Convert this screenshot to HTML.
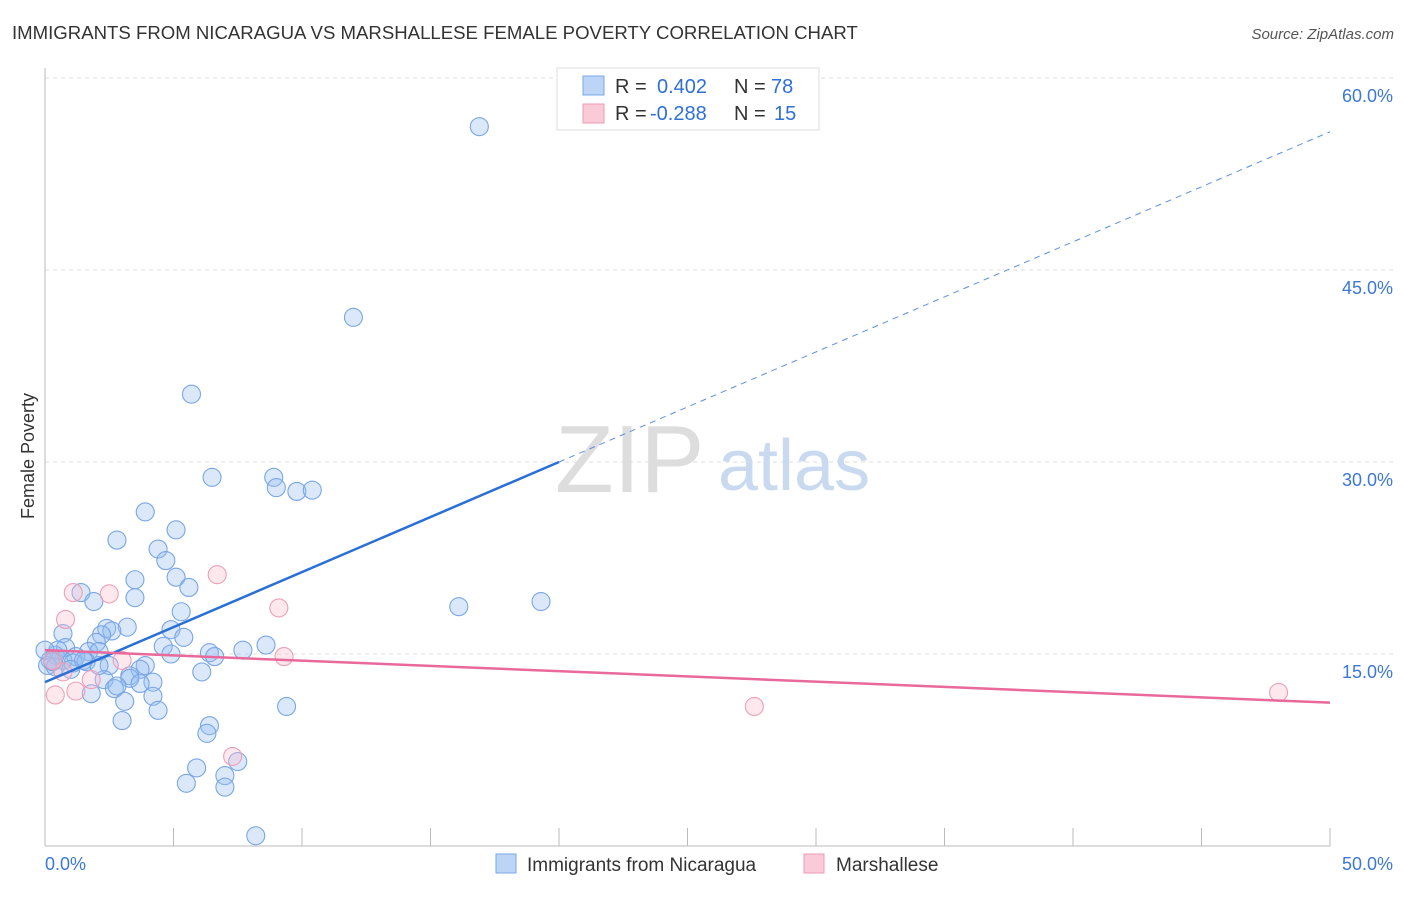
<!DOCTYPE html>
<html><head><meta charset="utf-8"><style>
body{margin:0;background:#fff;font-family:"Liberation Sans",sans-serif;}
svg text{font-family:"Liberation Sans",sans-serif;}
</style></head><body>
<svg id="chart" width="1406" height="892">
<text x="12" y="39" font-size="18.6" fill="#333">IMMIGRANTS FROM NICARAGUA VS MARSHALLESE FEMALE POVERTY CORRELATION CHART</text>
<text x="1394" y="39" font-size="15" fill="#555" font-style="italic" text-anchor="end">Source: ZipAtlas.com</text>
<text x="34" y="456" font-size="18" fill="#333" transform="rotate(-90 34 456)" text-anchor="middle">Female Poverty</text>
<g id="grid"></g>
<text x="555" y="492" font-size="96" fill="#ddd" font-family="Liberation Serif">ZIP</text>
<text x="718" y="490" font-size="72" fill="#c9daf0">atlas</text>
<g id="marks"></g>
<g>
<rect x="557" y="68" width="262" height="62" fill="#fff" stroke="#ddd"/>
<rect x="583" y="76" width="21" height="19" fill="#bcd4f5" stroke="#7aa8e8"/>
<rect x="583" y="104" width="21" height="19" fill="#f9cbd8" stroke="#ee9ab3"/>
<text x="615" y="93" font-size="20" fill="#333">R =</text>
<text x="657" y="93" font-size="20" fill="#2f6fd6">0.402</text>
<text x="734" y="93" font-size="20" fill="#333">N =</text>
<text x="771" y="93" font-size="20" fill="#2f6fd6">78</text>
<text x="615" y="120" font-size="20" fill="#333">R =</text>
<text x="650" y="120" font-size="20" fill="#2f6fd6">-0.288</text>
<text x="734" y="120" font-size="20" fill="#333">N =</text>
<text x="774" y="120" font-size="20" fill="#2f6fd6">15</text>
</g>
<g>
<rect x="496" y="854" width="20" height="19" fill="#bcd4f5" stroke="#7aa8e8"/>
<text x="527" y="871" font-size="19" fill="#333">Immigrants from Nicaragua</text>
<rect x="804" y="854" width="20" height="19" fill="#f9cbd8" stroke="#ee9ab3"/>
<text x="836" y="871" font-size="19" fill="#333">Marshallese</text>
</g>
</svg>
<script>
const blueX=[16.9,12.0,5.7,6.5,8.9,9.0,9.8,10.4,3.9,5.1,2.8,4.4,4.7,3.5,5.1,1.4,5.6,3.5,1.9,5.3,2.4,3.2,2.6,4.9,2.2,0.7,5.4,2.0,4.6,8.6,7.7,0.8,1.7,6.4,6.6,4.9,2.1,0.4,1.2,0.7,0.2,0.1,1.1,1.6,2.5,3.9,3.7,0.4,1.0,3.3,4.2,2.3,6.1,3.3,2.7,2.8,3.7,1.8,4.2,3.1,4.4,9.4,3.0,6.4,6.3,7.5,5.9,7.0,5.5,7.0,8.2,16.1,19.3,0.5,1.5,0.0,0.3,2.1];
const blueY=[56.2,41.3,35.3,28.8,28.8,28.0,27.7,27.8,26.1,24.7,23.9,23.2,22.3,20.8,21.0,19.8,20.2,19.4,19.1,18.3,17.0,17.1,16.8,16.9,16.5,16.6,16.3,15.9,15.6,15.7,15.3,15.5,15.2,15.1,14.8,15.0,15.2,14.9,14.8,14.5,14.5,14.1,14.3,14.4,14.1,14.1,13.8,14.0,13.8,13.3,12.8,13.0,13.6,13.1,12.3,12.5,12.7,11.9,11.7,11.3,10.6,10.9,9.8,9.4,8.8,6.6,6.1,5.5,4.9,4.6,0.8,18.7,19.1,15.3,14.5,15.3,14.4,14.1];
const pinkX=[1.1,2.5,6.7,0.8,9.1,9.3,3.0,0.7,1.8,0.4,1.2,7.3,27.6,48.0,0.3];
const pinkY=[19.8,19.7,21.2,17.7,18.6,14.8,14.5,13.6,13.0,11.8,12.1,7.0,10.9,12.0,14.5];
const yTicks=[15,30,45,60];
const yTickLabels=["15.0%","30.0%","45.0%","60.0%"];
const blueTrend=[12.8,55.8]; const blueSolidEnd=20;
const pinkTrend=[15.3,11.2];
const NS="http://www.w3.org/2000/svg";
const sx=v=>45+v/50*1285, sy=v=>846-v/15*192;
function mk(t,a,p){const e=document.createElementNS(NS,t);for(const k in a)e.setAttribute(k,a[k]);p.appendChild(e);return e;}
const grid=document.getElementById('grid'), marks=document.getElementById('marks');
yTicks.forEach((t,i)=>{
 const l=mk('line',{x1:45,x2:1393,y1:sy(t),y2:sy(t),stroke:'#ddd','stroke-dasharray':'4,4'},grid);
 
 
 const tx=mk('text',{x:1393,y:sy(t)+24,'font-size':18,fill:'#3b78d8','text-anchor':'end'},grid);tx.textContent=yTickLabels[i];
 
 
});
mk('line',{x1:45,x2:45,y1:68,y2:846,stroke:'#bbb'},grid);
mk('line',{x1:45,x2:1330,y1:846,y2:846,stroke:'#bbb'},grid);
for(let i=1;i<=10;i++){mk('line',{x1:sx(i*5),x2:sx(i*5),y1:828,y2:846,stroke:'#bbb'},grid);}
let t=mk('text',{x:45,y:870,'font-size':18,fill:'#3b78d8'},grid);t.textContent="0.0%";


t=mk('text',{x:1393,y:870,'font-size':18,fill:'#3b78d8','text-anchor':'end'},grid);t.textContent="50.0%";


blueX.forEach((x,i)=>{const c=mk('circle',{cx:sx(x),cy:sy(blueY[i]),r:9,fill:'rgba(150,190,240,0.35)',stroke:'#78a6e6','stroke-width':1.1},marks);
 
 });
pinkX.forEach((x,i)=>{const c=mk('circle',{cx:sx(x),cy:sy(pinkY[i]),r:9,fill:'rgba(248,190,205,0.35)',stroke:'#ee9fb6','stroke-width':1.1},marks);
 
 });
const by=x=>blueTrend[0]+(blueTrend[1]-blueTrend[0])*x/50;
let l=mk('line',{x1:sx(0),y1:sy(by(0)),x2:sx(blueSolidEnd),y2:sy(by(blueSolidEnd)),stroke:'#2a6fd6','stroke-width':2.5},marks);


l=mk('line',{x1:sx(blueSolidEnd),y1:sy(by(blueSolidEnd)),x2:sx(50),y2:sy(by(50)),stroke:'#5b8fe0','stroke-width':1,'stroke-dasharray':'6,5'},marks);


l=mk('line',{x1:sx(0),y1:sy(pinkTrend[0]),x2:sx(50),y2:sy(pinkTrend[1]),stroke:'#e8699a','stroke-width':2.5},marks);


</script>
</body></html>
